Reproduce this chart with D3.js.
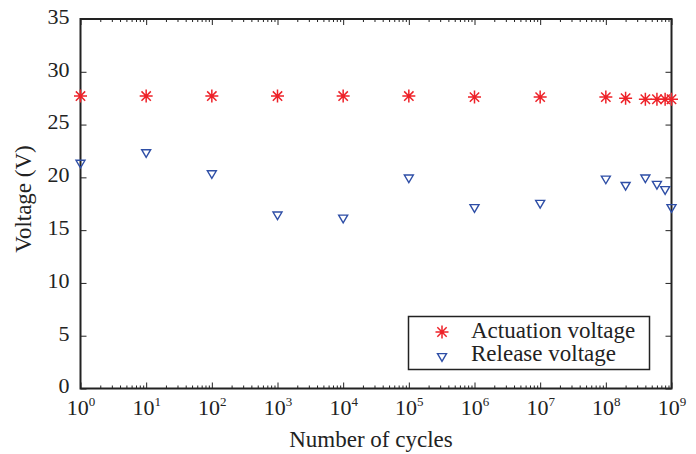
<!DOCTYPE html>
<html>
<head>
<meta charset="utf-8">
<script src="https://cdn.jsdelivr.net/npm/d3@7"></script>
<style>
  body { margin: 0; background: #fff; }
</style>
</head>
<body>
<div id="container"></div>
<script>
let w = 696;
let h = 454;

// data
let cycles = [1, 10, 100, 1e3, 1e4, 1e5, 1e6, 1e7, 1e8, 2e8, 4e8, 6e8, 8e8, 1e9];
let actuation = [27.7, 27.7, 27.7, 27.7, 27.7, 27.7, 27.6, 27.6, 27.6, 27.5, 27.4, 27.4, 27.4, 27.4];
let release = [21.3, 22.3, 20.3, 16.4, 16.1, 19.9, 17.1, 17.5, 19.8, 19.2, 19.9, 19.3, 18.8, 17.1];
let yTicks = [0, 5, 10, 15, 20, 25, 30, 35];
let xTicks = [1e0, 1e1, 1e2, 1e3, 1e4, 1e5, 1e6, 1e7, 1e8, 1e9];
let seriesNames = ["Actuation voltage", "Release voltage"];

let red = "#ee2229";
let blue = "#2e4ea6";
let serif = "'Liberation Serif', 'DejaVu Serif', serif";

let viz = d3.select("#container")
  .append("svg")
    .attr("width", w)
    .attr("height", h)
    .style("font-family", serif);

// plot box edges
let pLeft = 80.5, pRight = 671.5, pTop = 19, pBottom = 388.5;

let xScale = d3.scaleLog().domain([1, 1e9]).range([pLeft, pRight]);
let yScale = d3.scaleLinear().domain([0, 35]).range([pBottom, pTop]);

// minor ticks for the log axis
let minor = [];
for (let d = 0; d < 9; d++) {
  for (let k = 2; k <= 9; k++) minor.push(k * Math.pow(10, d));
}

function noDomain(g) {
  g.select(".domain").remove();
  g.attr("font-family", null);
  g.selectAll("line").attr("stroke", "#222").attr("stroke-width", 1);
}

// bottom axis, ticks pointing in
let xAxisGroup = viz.append("g")
  .attr("transform", "translate(0," + pBottom + ")")
  .call(d3.axisBottom(xScale).tickValues(xTicks).tickSizeInner(-6).tickSizeOuter(0).tickFormat(""))
  .call(noDomain);
viz.append("g")
  .attr("transform", "translate(0," + pBottom + ")")
  .call(d3.axisBottom(xScale).tickValues(minor).tickSizeInner(-3).tickSizeOuter(0).tickFormat(""))
  .call(noDomain);
viz.append("g")
  .attr("transform", "translate(0," + pTop + ")")
  .call(d3.axisTop(xScale).tickValues(xTicks).tickSizeInner(-6).tickSizeOuter(0).tickFormat(""))
  .call(noDomain);
viz.append("g")
  .attr("transform", "translate(0," + pTop + ")")
  .call(d3.axisTop(xScale).tickValues(minor).tickSizeInner(-3).tickSizeOuter(0).tickFormat(""))
  .call(noDomain);

// x labels as 10 with superscript exponent
xAxisGroup.selectAll(".tick").each(function(d) {
  let t = d3.select(this).append("text")
    .attr("y", 26)
    .attr("text-anchor", "middle")
    .attr("fill", "#222")
    .style("font-family", serif)
    .style("font-size", "22px");
  t.append("tspan").text("10");
  t.append("tspan")
    .attr("dy", -9)
    .style("font-size", "13px")
    .text(Math.round(Math.log10(d)));
});

// y axes
let yAxisGroup = viz.append("g")
  .attr("transform", "translate(" + pLeft + ",0)")
  .call(d3.axisLeft(yScale).tickValues(yTicks).tickSizeInner(-6).tickSizeOuter(0).tickPadding(11))
  .call(noDomain);
yAxisGroup.selectAll("text")
  .style("font-family", serif)
  .style("font-size", "22px")
  .attr("dy", "0.2em")
  .attr("fill", "#222");
viz.append("g")
  .attr("transform", "translate(" + pRight + ",0)")
  .call(d3.axisRight(yScale).tickValues(yTicks).tickSizeInner(-6).tickSizeOuter(0).tickFormat(""))
  .call(noDomain);

// frame
viz.append("rect")
  .attr("x", pLeft).attr("y", pTop)
  .attr("width", pRight - pLeft).attr("height", pBottom - pTop)
  .attr("fill", "none").attr("stroke", "#222").attr("stroke-width", 2);

// axis titles
viz.append("text")
  .attr("x", 371)
  .attr("y", 446.5)
  .attr("text-anchor", "middle")
  .attr("fill", "#222")
  .style("font-family", serif)
  .style("font-size", "23px")
  .text("Number of cycles");
viz.append("text")
  .attr("transform", "translate(31,199) rotate(-90)")
  .attr("text-anchor", "middle")
  .attr("fill", "#222")
  .style("font-family", serif)
  .style("font-size", "23px")
  .text("Voltage (V)");

// marker shapes
function star(r) {
  let a = r * 0.72;
  return "M" + (-r) + ",0L" + r + ",0M0," + (-r) + "L0," + r +
    "M" + (-a) + "," + (-a) + "L" + a + "," + a +
    "M" + (-a) + "," + a + "L" + a + "," + (-a);
}
function tri(s) {
  return "M" + (-s) + "," + (-s * 0.75) + "L" + s + "," + (-s * 0.75) + "L0," + (s * 0.95) + "Z";
}

let vizgroup = viz.append("g");

vizgroup.selectAll(".rel").data(cycles).enter()
  .append("path")
    .attr("class", "rel")
    .attr("d", tri(4.5))
    .attr("transform", function(d, i) {
      return "translate(" + xScale(d) + "," + yScale(release[i]) + ")";
    })
    .attr("fill", "none").attr("stroke", blue).attr("stroke-width", 1.4);

vizgroup.selectAll(".act").data(cycles).enter()
  .append("path")
    .attr("class", "act")
    .attr("d", star(6.5))
    .attr("transform", function(d, i) {
      return "translate(" + xScale(d) + "," + yScale(actuation[i]) + ")";
    })
    .attr("fill", "none").attr("stroke", red).attr("stroke-width", 1.5);

// legend
let legend = viz.append("g");
legend.append("rect")
  .attr("x", 408.5).attr("y", 316.5)
  .attr("width", 241).attr("height", 53)
  .attr("fill", "#fff").attr("stroke", "#222").attr("stroke-width", 1.5);
legend.append("path")
  .attr("d", star(6.5))
  .attr("transform", "translate(442,332)")
  .attr("fill", "none").attr("stroke", red).attr("stroke-width", 1.5);
legend.append("path")
  .attr("d", tri(4.5))
  .attr("transform", "translate(442,357)")
  .attr("fill", "none").attr("stroke", blue).attr("stroke-width", 1.4);
legend.selectAll(".ltxt").data(seriesNames).enter()
  .append("text")
    .attr("class", "ltxt")
    .attr("x", 471)
    .attr("y", function(d, i) { return 338 + i * 23; })
    .attr("fill", "#222")
    .style("font-family", serif)
    .style("font-size", "23px")
    .text(function(d) { return d; });
</script>
</body>
</html>
